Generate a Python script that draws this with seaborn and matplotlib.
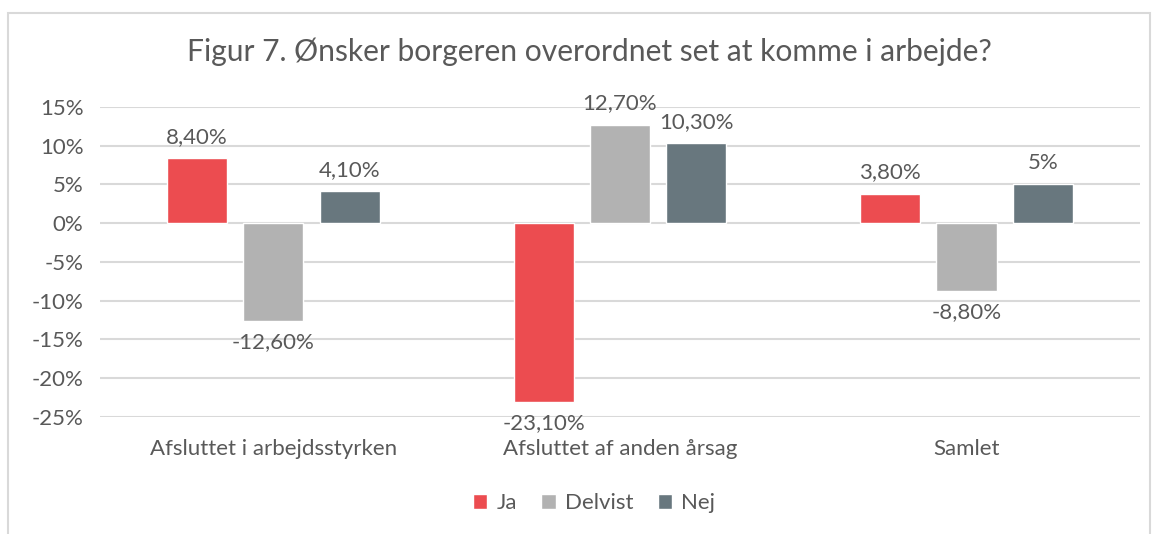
import pandas as pd
import matplotlib.pyplot as plt
import seaborn as sns
from matplotlib.patches import Rectangle
from matplotlib.ticker import FuncFormatter

sns.set_theme(style="white")
plt.rcParams["font.family"] = ["Lato", "DejaVu Sans"]

# === Data ===
categories = ["Afsluttet i arbejdsstyrken", "Afsluttet af anden årsag", "Samlet"]
series = ["Ja", "Delvist", "Nej"]
ja = [8.4, -23.1, 3.8]
delvist = [-12.6, 12.7, -8.8]
nej = [4.1, 10.3, 5.0]
colors = ["#EC4C50", "#B2B2B2", "#68777E"]

df = pd.DataFrame(
    {
        "Kategori": categories * 3,
        "Svar": [s for s in series for _ in categories],
        "Andel": ja + delvist + nej,
    }
)

text_col = "#595959"
grid_col = "#D9D9D9"

fig = plt.figure(figsize=(11.58, 5.34), dpi=100)
ax = fig.add_axes([0.0864, 0.219, 0.898, 0.581])

sns.barplot(
    data=df,
    x="Kategori",
    y="Andel",
    hue="Svar",
    palette=colors,
    saturation=1,
    width=0.66,
    gap=0.21,
    ax=ax,
    legend=True,
)

ax.set_ylim(-25, 15)
ax.set_xlim(-0.5, 2.5)
ax.set_yticks(range(-25, 20, 5))
ax.yaxis.set_major_formatter(FuncFormatter(lambda v, p: f"{int(v)}%"))
ax.grid(axis="y", color=grid_col, linewidth=1.5)
ax.set_axisbelow(True)
for s in ax.spines.values():
    s.set_visible(False)
ax.set_xlabel("")
ax.set_ylabel("")
ax.tick_params(axis="y", labelsize=16, colors=text_col, length=0, pad=12)
ax.tick_params(axis="x", labelsize=16, colors=text_col, length=0, pad=16)


def fmt(v):
    if float(v).is_integer():
        return f"{int(v)}%"
    return f"{v:.2f}%".replace(".", ",")


for cont, vals in zip(ax.containers, [ja, delvist, nej]):
    ax.bar_label(cont, labels=[fmt(v) for v in vals], padding=8, fontsize=16, color=text_col)

# title centred on the whole chart, not the plot area
fig.text(
    589 / 1158,
    1 - 52 / 534,
    "Figur 7. Ønsker borgeren overordnet set at komme i arbejde?",
    fontsize=21.6,
    color=text_col,
    ha="center",
    va="center",
)

ax.legend(
    loc="center",
    bbox_to_anchor=(0.475, -0.277),
    ncol=3,
    frameon=False,
    fontsize=16,
    handlelength=0.65,
    handleheight=0.65,
    handletextpad=0.4,
    columnspacing=1.1,
    labelcolor=text_col,
)

fig.patches.append(
    Rectangle(
        (8 / 1158, -0.05),
        1142 / 1158,
        1.05 - 13 / 534,
        transform=fig.transFigure,
        fill=False,
        edgecolor=grid_col,
        linewidth=1.5,
    )
)

plt.savefig("out.png", dpi=100)
